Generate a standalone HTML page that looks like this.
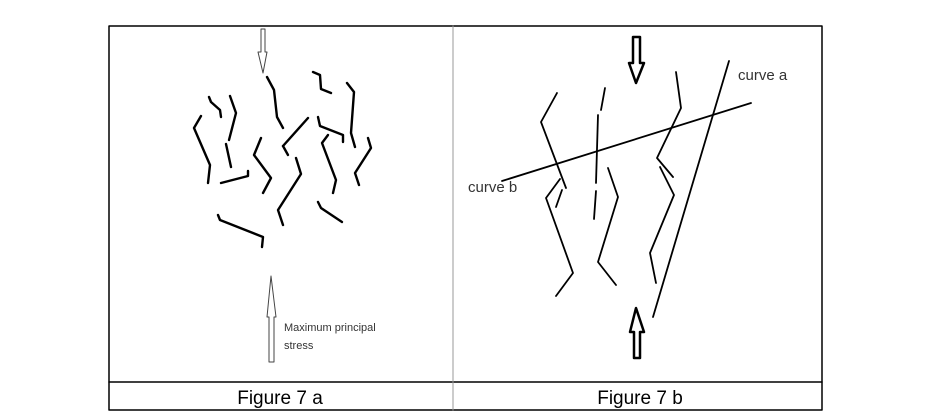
<!DOCTYPE html>
<html><head><meta charset="utf-8"><style>
html,body{margin:0;padding:0;background:#fff;width:945px;height:419px;overflow:hidden}
svg{position:absolute;left:0;top:0}
</style></head><body>
<svg width="945" height="419" viewBox="0 0 945 419" xmlns="http://www.w3.org/2000/svg">
<g stroke="#000" fill="none" stroke-linecap="round" stroke-linejoin="round">
<rect x="109" y="26" width="713" height="384" stroke-width="1.5"/>
<line x1="109" y1="382" x2="822" y2="382" stroke-width="1.5"/>
<line x1="453" y1="26" x2="453" y2="410" stroke="#999" stroke-width="1"/>
<path d="M261,29 L265,29 L265,52 L267,52 L263,73 L258,52 L261,52 Z" stroke-width="1" stroke="#444"/>
<path d="M269,362 L274,362 L274,317 L276,317 L271,276 L267,317 L269,317 Z" stroke-width="1" stroke="#444"/>
<g stroke-width="2.4">
<polyline points="267,77 274,90 277,117 283,128"/>
<polyline points="209,97 211,102 220,110 221,117"/>
<polyline points="230,96 236,113 229,140"/>
<polyline points="201,116 194,128 210,165 208,183"/>
<polyline points="226,144 231,167"/>
<polyline points="221,183 248,176 248,171"/>
<polyline points="261,138 254,155 271,178 263,193"/>
<polyline points="283,146 308,118"/>
<polyline points="288,155 283,146"/>
<polyline points="296,158 301,174 278,210 283,225"/>
<polyline points="313,72 320,75 321,89 331,93"/>
<polyline points="347,83 354,92 351,133 355,147"/>
<polyline points="318,117 320,126 343,135 343,142"/>
<polyline points="328,135 322,143 336,180 333,193"/>
<polyline points="368,138 371,148 355,173 359,185"/>
<polyline points="318,202 321,208 342,222"/>
<polyline points="218,215 220,220 263,237 262,247"/>
</g>
<path d="M633,37 L640,37 L640,63 L644,63 L636,83 L629,63 L633,63 Z" stroke-width="2.5"/>
<path d="M634,358 L640,358 L640,332 L644,332 L636,308 L630,332 L634,332 Z" stroke-width="2.5"/>
<line x1="729" y1="61" x2="653" y2="317" stroke-width="1.8"/>
<line x1="502" y1="181" x2="751" y2="103" stroke-width="1.8"/>
<g stroke-width="1.8">
<polyline points="557,93 541,122 566,188"/>
<polyline points="560,179 546,198 573,273 556,296"/>
<polyline points="562,190 556,207"/>
<polyline points="605,88 601,110"/>
<polyline points="598,115 596,183"/>
<polyline points="596,191 594,219"/>
<polyline points="608,168 618,197 598,262 616,285"/>
<polyline points="676,72 681,108 657,158 673,177"/>
<polyline points="660,167 674,195 650,253 656,283"/>
</g>
</g>
<g font-family="Liberation Sans, sans-serif" fill="#333">
<text x="284" y="331" font-size="11">Maximum principal</text>
<text x="284" y="349" font-size="11">stress</text>
<text x="738" y="80" font-size="15">curve a</text>
<text x="468" y="192" font-size="15">curve b</text>
</g>
<g font-family="Liberation Sans, sans-serif" fill="#000" font-size="19" text-anchor="middle">
<text x="280" y="404">Figure 7 a</text>
<text x="640" y="404">Figure 7 b</text>
</g>
</svg>
</body></html>
